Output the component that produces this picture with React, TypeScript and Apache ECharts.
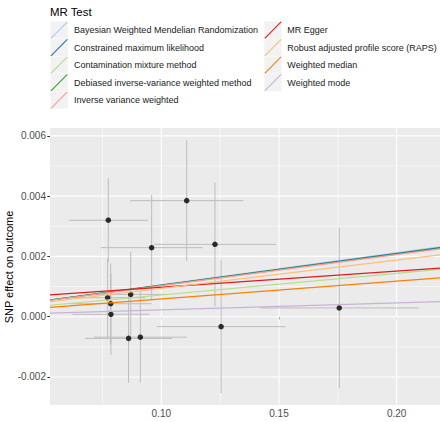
import React, { useEffect, useRef } from "react";
import * as echarts from "echarts";

const methods = [
  "Bayesian Weighted Mendelian Randomization",
  "Constrained maximum likelihood",
  "Contamination mixture method",
  "Debiased inverse-variance weighted method",
  "Inverse variance weighted",
  "MR Egger",
  "Robust adjusted profile score (RAPS)",
  "Weighted median",
  "Weighted mode",
];
const methodColors = [
  "#A6CEE3", "#1F78B4", "#B2DF8A", "#33A02C", "#FB9A99",
  "#E31A1C", "#FDBF6F", "#FF7F00", "#CAB2D6",
];
const methodSlopes = [0.0106, 0.0105, 0.0072, 0.0104, 0.0103, 0.00535, 0.0094, 0.0059, 0.0023];
const methodIntercepts = [0, 0, 0, 0, 0, 0.00044, 0, 0, 0];

const snpX = [0.0775, 0.1108, 0.0959, 0.1228, 0.1254, 0.1756, 0.0772, 0.0785, 0.0786, 0.087, 0.0861, 0.0911];
const snpY = [0.0032, 0.00385, 0.00229, 0.0024, -0.00033, 0.00029, 0.00063, 0.00043, 0.00008, 0.00074, -0.00072, -0.00068];
const seX = [0.0169, 0.0241, 0.0216, 0.026, 0.0274, 0.0338, 0.016, 0.0174, 0.0164, 0.015, 0.0185, 0.0197];
const seY = [0.0014, 0.002, 0.00175, 0.00205, 0.0022, 0.00267, 0.0013, 0.00134, 0.00135, 0.00142, 0.00147, 0.00151];

const xTicks = [0.1, 0.15, 0.2];
const xMinorTicks = [0.075, 0.125, 0.175];
const yTicks = [-0.002, 0, 0.002, 0.004, 0.006];
const yMinorTicks = [-0.001, 0.001, 0.003, 0.005];

const X_MIN = 0.05272;
const X_MAX = 0.2184;
const Y_MIN = -0.00293;
const Y_MAX = 0.00626;

const FONT = "'Liberation Sans', Arial, sans-serif";

export default function App() {
  const ref = useRef<HTMLDivElement>(null);
  useEffect(() => {
    document.body.style.margin = "0";
    if (!ref.current) return;
    const chart = echarts.init(ref.current, undefined, { renderer: "svg" });

    const legendEls: any[] = [];
    legendEls.push({
      type: "text",
      x: 50,
      y: 11.5,
      style: { text: "MR Test", fontSize: 11.4, fontFamily: FONT, fill: "#000", textAlign: "left", textVerticalAlign: "middle" },
    });
    methods.forEach((m, i) => {
      const col = i < 5 ? 0 : 1;
      const row = i < 5 ? i : i - 5;
      const kx = col === 0 ? 50.5 : 264.3;
      const tx = col === 0 ? 74 : 287.3;
      const cy = 30 + row * 17.5;
      legendEls.push({
        type: "rect",
        shape: { x: kx, y: cy - 8.6, width: 17.3, height: 17.2 },
        style: { fill: "#F2F2F2" },
      });
      legendEls.push({
        type: "line",
        shape: { x1: kx + 0.5, y1: cy + 8.4, x2: kx + 16.8, y2: cy - 8.2 },
        style: { stroke: methodColors[i], lineWidth: 1.1 },
      });
      legendEls.push({
        type: "text",
        x: tx,
        y: cy,
        style: { text: m, fontSize: 9, fontFamily: FONT, fill: "#1A1A1A", textAlign: "left", textVerticalAlign: "middle" },
      });
    });
    legendEls.push({
      type: "text",
      x: 8.5,
      y: 267,
      rotation: Math.PI / 2,
      style: { text: "SNP effect on outcome", fontSize: 11, fontFamily: FONT, fill: "#000", textAlign: "center", textVerticalAlign: "middle" },
    });

    const vGridData = [
      ...xTicks.map((v) => [v, 0, 1]),
      ...xMinorTicks.map((v) => [v, 0, 0]),
    ];
    const hGridData = [
      ...yTicks.map((v) => [0.1, v, 1]),
      ...yMinorTicks.map((v) => [0.1, v, 0]),
    ];
    const errData = snpX.map((x, i) => [x, snpY[i], seX[i], seY[i]]);

    const lineSeries = methods.map((m, i) => ({
      type: "line",
      name: m,
      z: 5,
      showSymbol: false,
      silent: true,
      lineStyle: { color: methodColors[i], width: 1.2 },
      data: [
        [X_MIN, methodIntercepts[i] + methodSlopes[i] * X_MIN],
        [X_MAX, methodIntercepts[i] + methodSlopes[i] * X_MAX],
      ],
    }));

    chart.setOption({
      animation: false,
      textStyle: { fontFamily: FONT },
      grid: {
        left: 50,
        right: 0,
        top: 128,
        bottom: 17,
        show: true,
        backgroundColor: "#EBEBEB",
        borderWidth: 0,
      },
      xAxis: {
        type: "value",
        min: X_MIN,
        max: X_MAX,
        axisLine: { show: false },
        splitLine: { show: false },
        axisTick: { show: true, length: 2.7, lineStyle: { color: "#333333", width: 1 }, customValues: xTicks },
        axisLabel: {
          customValues: xTicks,
          formatter: (v: number) => v.toFixed(2),
          color: "#4D4D4D",
          fontSize: 10,
          fontFamily: FONT,
          margin: 3,
        },
      },
      yAxis: {
        type: "value",
        min: Y_MIN,
        max: Y_MAX,
        axisLine: { show: false },
        splitLine: { show: false },
        axisTick: { show: true, length: 2.7, lineStyle: { color: "#333333", width: 1 }, customValues: yTicks },
        axisLabel: {
          customValues: yTicks,
          formatter: (v: number) => v.toFixed(3),
          color: "#4D4D4D",
          fontSize: 10,
          fontFamily: FONT,
          margin: 4,
        },
      },
      graphic: legendEls,
      series: [
        {
          type: "custom",
          z: 1,
          silent: true,
          encode: { x: 0, y: 1 },
          data: vGridData,
          renderItem: (params: any, api: any) => {
            const cs = params.coordSys;
            const x = api.coord([api.value(0), 0])[0];
            return {
              type: "line",
              shape: { x1: x, y1: cs.y, x2: x, y2: cs.y + cs.height },
              style: { stroke: "#FFFFFF", lineWidth: api.value(2) ? 1.1 : 0.55 },
            };
          },
        },
        {
          type: "custom",
          z: 1,
          silent: true,
          encode: { x: 0, y: 1 },
          data: hGridData,
          renderItem: (params: any, api: any) => {
            const cs = params.coordSys;
            const y = api.coord([0.1, api.value(1)])[1];
            return {
              type: "line",
              shape: { x1: cs.x, y1: y, x2: cs.x + cs.width, y2: y },
              style: { stroke: "#FFFFFF", lineWidth: api.value(2) ? 1.1 : 0.55 },
            };
          },
        },
        {
          type: "custom",
          z: 2,
          silent: true,
          encode: { x: 0, y: 1 },
          data: errData,
          renderItem: (params: any, api: any) => {
            const x = api.value(0);
            const y = api.value(1);
            const sx = api.value(2);
            const sy = api.value(3);
            const h1 = api.coord([x - sx, y]);
            const h2 = api.coord([x + sx, y]);
            const v1 = api.coord([x, y - sy]);
            const v2 = api.coord([x, y + sy]);
            const st = { stroke: "#BDBDBD", lineWidth: 1 };
            return {
              type: "group",
              children: [
                { type: "line", shape: { x1: h1[0], y1: h1[1], x2: h2[0], y2: h2[1] }, style: st },
                { type: "line", shape: { x1: v1[0], y1: v1[1], x2: v2[0], y2: v2[1] }, style: st },
              ],
            };
          },
        },
        {
          type: "scatter",
          z: 3,
          silent: true,
          symbolSize: 5.5,
          itemStyle: { color: "#000000" },
          data: snpX.map((x, i) => [x, snpY[i]]),
        },
        ...lineSeries,
      ],
    });
    return () => chart.dispose();
  }, []);
  return <div ref={ref} style={{ width: 440, height: 422 }} />;
}
